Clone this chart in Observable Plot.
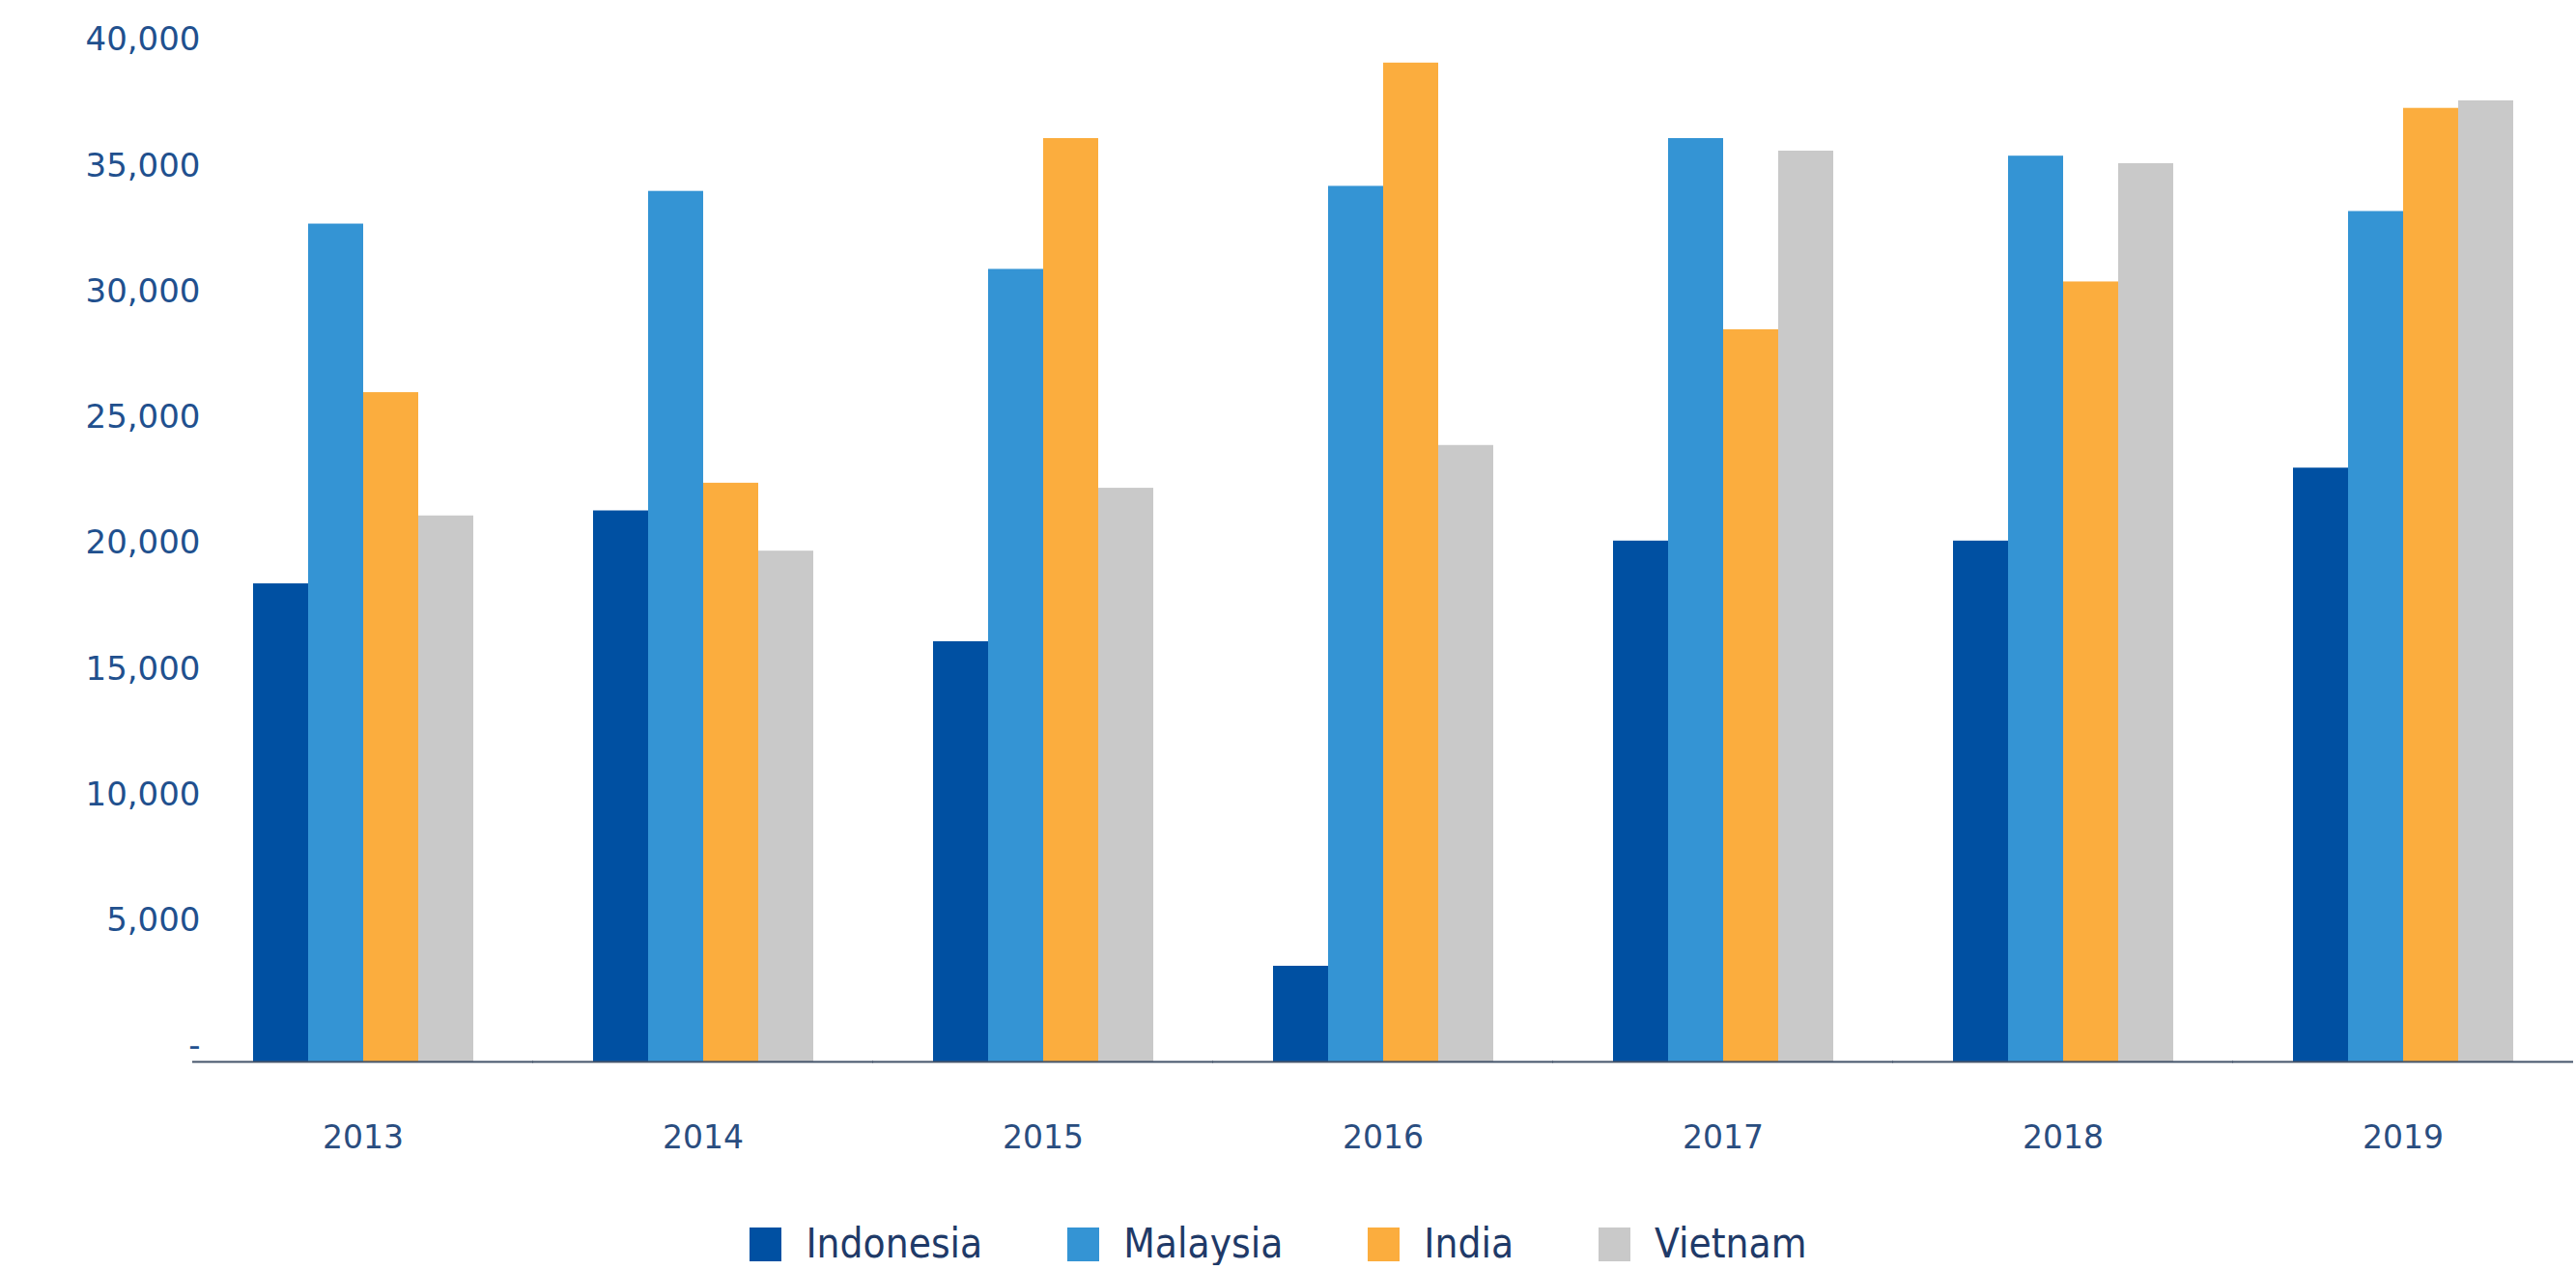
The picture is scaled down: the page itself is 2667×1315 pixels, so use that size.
<!DOCTYPE html>
<html>
<head>
<meta charset="utf-8">
<script src="https://cdn.jsdelivr.net/npm/d3@7"></script>
<script src="https://cdn.jsdelivr.net/npm/@observablehq/plot@0.6"></script>
<style>
  html, body { margin: 0; padding: 0; background: #ffffff; }
  #chart svg { display: block; }
  #legend {
    display: flex; justify-content: center; align-items: center;
    height: 44px; margin-top: 16px; padding-right: 20px;
    font-family: "DejaVu Sans", sans-serif; font-stretch: condensed;
    font-size: 42px; line-height: 44px; color: #1f3a68; gap: 88px;
  }
  #legend .item { display: flex; align-items: center; gap: 25px; }
  #legend .sw { width: 33px; height: 35px; display: inline-block; }
</style>
</head>
<body>
<div id="chart"></div>
<div id="legend"></div>
<script>
const years = ["2013", "2014", "2015", "2016", "2017", "2018", "2019"];
const countries = ["Indonesia", "Malaysia", "India", "Vietnam"];
const indonesia = [19000, 21900, 16700, 3800, 20700, 20700, 23600];
const malaysia  = [33300, 34600, 31500, 34800, 36700, 36000, 33800];
const india     = [26600, 23000, 36700, 39700, 29100, 31000, 37900];
const vietnam   = [21700, 20300, 22800, 24500, 36200, 35700, 38200];
const colors = ["#0050a2", "#3494d4", "#fbad3e", "#c9c9c9"];
const yTicks = [0, 5000, 10000, 15000, 20000, 25000, 30000, 35000, 40000];

const series = [indonesia, malaysia, india, vietnam];
const data = years.flatMap((yr, i) =>
  countries.map((c, j) => ({year: yr, country: c, value: series[j][i]})));

const fmt = d3.format(",");
const chart = Plot.plot({
  width: 2667,
  height: 1250,
  marginTop: 57,
  marginBottom: 151,
  marginLeft: 197,
  marginRight: 2,
  style: {fontFamily: "DejaVu Sans, sans-serif", background: "#ffffff"},
  fx: {domain: years, paddingInner: 0.35, paddingOuter: 0.175, label: null},
  x: {domain: countries, padding: 0, axis: null},
  y: {domain: [0, 40000], label: null, axis: null},
  color: {domain: countries, range: colors},
  marks: [
    Plot.barY(data, {fx: "year", x: "country", y: "value", fill: "country"}),
    Plot.axisY({ticks: yTicks, tickFormat: d => d === 0 ? "-" : fmt(d), tickSize: 0,
      tickPadding: 54, dy: -16, fontSize: 34, color: "#21508e", label: null}),
    Plot.axisFx({anchor: "bottom", tickSize: 0, tickPadding: 66, fontSize: 33,
      color: "#2a4d7f", label: null}),
    Plot.ruleY([0], {stroke: "#44546a", strokeWidth: 2, insetLeft: -62, insetRight: -62})
  ]
});
document.getElementById("chart").appendChild(chart);

const legend = document.getElementById("legend");
countries.forEach((c, i) => {
  const item = document.createElement("div");
  item.className = "item";
  const sw = document.createElement("span");
  sw.className = "sw";
  sw.style.background = colors[i];
  const t = document.createElement("span");
  t.textContent = c;
  item.appendChild(sw);
  item.appendChild(t);
  legend.appendChild(item);
});
</script>
</body>
</html>
